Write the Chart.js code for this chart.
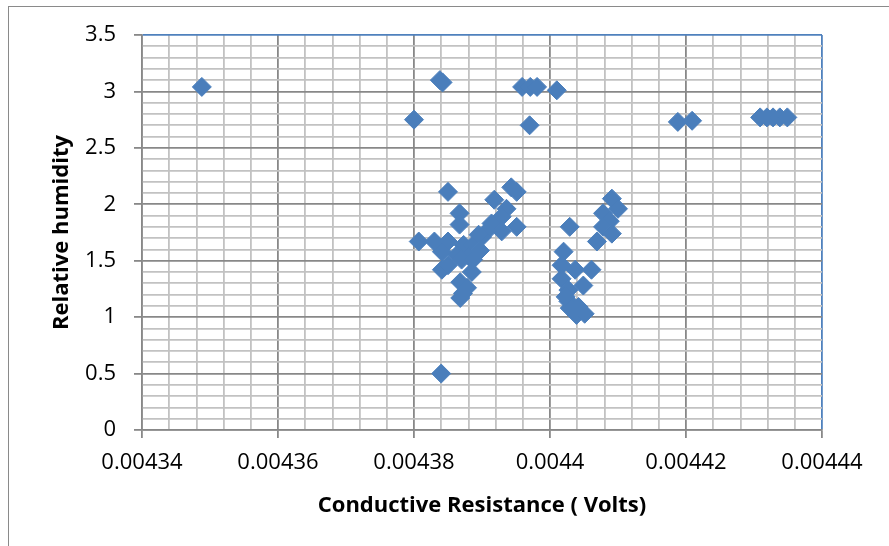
<!DOCTYPE html>
<html>
<head>
<meta charset="utf-8">
<script src="https://cdn.jsdelivr.net/npm/chart.js@4.4.1/dist/chart.umd.min.js"></script>
<style>
  html, body { margin: 0; padding: 0; background: #fff; }
  #wrap { position: relative; width: 889px; height: 546px; overflow: hidden; }
  #frame { position: absolute; left: 8px; top: 6px; width: 900px; height: 560px; border: 1.5px solid #8a8a8a; box-sizing: border-box; }
  #chart { position: absolute; left: 0; top: 0; }
</style>
</head>
<body>
<div id="wrap">
  <div id="frame"></div>
  <canvas id="chart" width="889" height="546"></canvas>
</div>
<script>
// 读数：导电电阻 (Volts) 与相对湿度
const resistance = [
  0.0043488, 0.00438, 0.0043838, 0.0043842, 0.004384,
  0.0043959, 0.0043971, 0.0043981, 0.004397, 0.004401,
  0.0044188, 0.0044209,
  0.0044309, 0.0044319, 0.0044328, 0.0044338, 0.0044349,
  // 左侧簇
  0.004385, 0.0043867, 0.0043867, 0.0043943, 0.0043951, 0.0043918, 0.0043936,
  0.0043929, 0.0043914, 0.0043951, 0.0043929, 0.0043907, 0.00439,
  0.0043807, 0.004383, 0.004385, 0.0043873, 0.0043887, 0.004388, 0.0043841,
  0.0043863, 0.0043841, 0.004385, 0.004387, 0.0043887, 0.0043885, 0.0043868,
  0.0043878, 0.0043868, 0.0043872, 0.0043895, 0.0043897,
  // 右侧簇
  0.0044029, 0.0044091, 0.00441, 0.0044078, 0.0044088, 0.0044078, 0.0044091,
  0.0044069, 0.004402, 0.0044017, 0.0044037, 0.0044061, 0.0044017, 0.0044049,
  0.0044027, 0.0044027, 0.0044029, 0.0044039, 0.0044051, 0.0044042, 0.0044023
];
const humidity = [
  3.04, 2.75, 3.10, 3.08, 0.50,
  3.04, 3.04, 3.04, 2.70, 3.01,
  2.73, 2.74,
  2.77, 2.77, 2.77, 2.77, 2.77,
  2.11, 1.92, 1.82, 2.15, 2.11, 2.04, 1.96,
  1.89, 1.83, 1.80, 1.76, 1.76, 1.71,
  1.67, 1.67, 1.67, 1.64, 1.64, 1.54, 1.58,
  1.55, 1.42, 1.46, 1.51, 1.51, 1.40, 1.31,
  1.26, 1.17, 1.21, 1.73, 1.59,
  1.80, 2.05, 1.96, 1.92, 1.85, 1.80, 1.74,
  1.67, 1.58, 1.46, 1.42, 1.42, 1.34, 1.28,
  1.24, 1.14, 1.08, 1.02, 1.03, 1.09, 1.18
];

const xMin = 0.00434, xMax = 0.00444, xMinor = 0.000004;
const yMin = 0, yMax = 3.5, yMinor = 0.1;
const majorEvery = 5;

const points = resistance.map((x, i) => ({ x: x, y: humidity[i] }));
const fontFamily = '"Open Sans", "Noto Sans", sans-serif';

function gridColor(ctx, lastIndex) {
    if (ctx.index === lastIndex) return '#4f81bd';
    return ctx.index % majorEvery === 0 ? '#888888' : '#c2c2c2';
}

new Chart(document.getElementById('chart'), {
    type: 'scatter',
    data: {
        datasets: [{
            data: points,
            pointStyle: 'rectRot',
            pointRadius: 9.5,
            pointHoverRadius: 9.5,
            backgroundColor: '#4a7ebb',
            borderColor: '#4b7fbc',
            borderWidth: 1
        }]
    },
    options: {
        responsive: false,
        animation: false,
        events: [],
        layout: { padding: { left: 0, top: 35, right: 67, bottom: 0 } },
        plugins: { legend: { display: false }, tooltip: { enabled: false } },
        scales: {
            x: {
                type: 'linear',
                min: xMin,
                max: xMax,
                afterFit: s => { s.height = 116; },
                border: { color: '#888888', width: 1.5 },
                grid: {
                    color: ctx => gridColor(ctx, 25),
                    lineWidth: 1.8,
                    tickLength: 8,
                    tickColor: ctx => ctx.index % majorEvery === 0 ? '#888888' : 'rgba(0,0,0,0)'
                },
                ticks: {
                    stepSize: xMinor,
                    autoSkip: false,
                    maxRotation: 0,
                    padding: 12,
                    color: '#000',
                    font: { family: fontFamily, size: 22 },
                    callback: (v, i) => i % majorEvery === 0 ? String(parseFloat(v.toFixed(5))) : ''
                },
                title: {
                    display: true,
                    text: 'Conductive Resistance ( Volts)',
                    color: '#000',
                    font: { family: fontFamily, size: 22, weight: 'bold' },
                    padding: { top: 0, bottom: 27 }
                }
            },
            y: {
                type: 'linear',
                min: yMin,
                max: yMax,
                afterFit: s => { s.width = 142; },
                border: { color: '#888888', width: 1.5 },
                grid: {
                    color: ctx => gridColor(ctx, 35),
                    lineWidth: 1.8,
                    tickLength: 8,
                    tickColor: ctx => ctx.index % majorEvery === 0 ? '#888888' : 'rgba(0,0,0,0)'
                },
                ticks: {
                    stepSize: yMinor,
                    autoSkip: false,
                    padding: 18,
                    color: '#000',
                    font: { family: fontFamily, size: 22 },
                    callback: (v, i) => i % majorEvery === 0 ? String(parseFloat(v.toFixed(1))) : ''
                },
                title: {
                    display: true,
                    text: 'Relative humidity',
                    color: '#000',
                    font: { family: fontFamily, size: 22, weight: 'bold' },
                    padding: { top: 49, bottom: 0 }
                }
            }
        }
    }
});
</script>
</body>
</html>
